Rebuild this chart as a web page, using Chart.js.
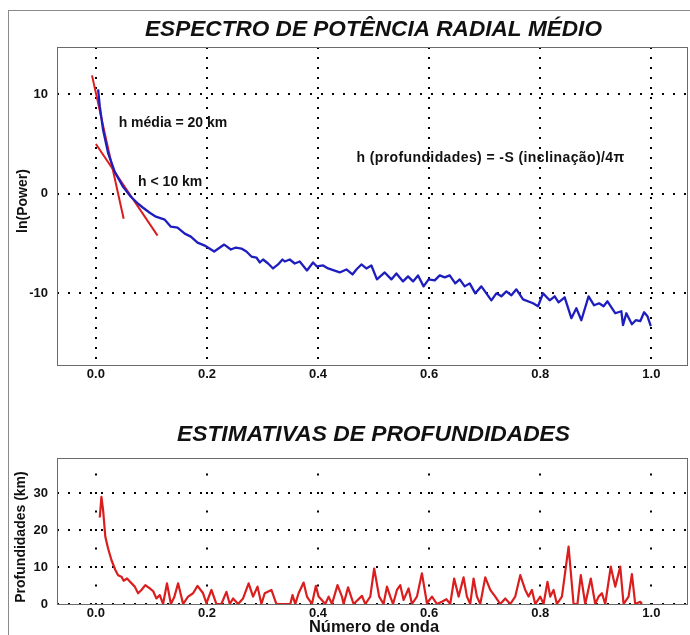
<!DOCTYPE html>
<html><head><meta charset="utf-8">
<script src="https://cdn.jsdelivr.net/npm/chart.js@4.4.0/dist/chart.umd.min.js"></script>
<style>
html,body{margin:0;padding:0;background:#fff;width:690px;height:635px;overflow:hidden;}
#frame{position:absolute;left:8px;top:10px;width:700px;height:700px;border-left:1px solid #8a8a8a;border-top:1px solid #8a8a8a;}
#w1{position:absolute;left:0;top:0;width:690px;height:395px;}
#w2{position:absolute;left:0;top:395px;width:690px;height:240px;}
</style></head><body>
<div id="frame"></div>
<div id="w1"><canvas id="c1"></canvas></div>
<div id="w2"><canvas id="c2"></canvas></div>
<script>
// ---- data ----
const spectrumK = [0.004,0.007,0.013,0.022,0.034,0.049,0.063,0.076,0.085,0.097,0.108,0.124,0.135,0.147,0.160,0.171,0.183,0.196,0.213,0.231,0.243,0.252,0.262,0.271,0.280,0.289,0.295,0.301,0.310,0.319,0.328,0.336,0.340,0.349,0.358,0.367,0.380,0.391,0.398,0.409,0.418,0.439,0.451,0.462,0.469,0.478,0.487,0.496,0.506,0.520,0.532,0.541,0.553,0.562,0.571,0.580,0.590,0.599,0.610,0.619,0.628,0.637,0.647,0.655,0.664,0.673,0.683,0.694,0.703,0.712,0.721,0.730,0.739,0.748,0.757,0.769,0.787,0.796,0.805,0.817,0.826,0.833,0.844,0.856,0.865,0.874,0.887,0.897,0.906,0.914,0.921,0.935,0.946,0.949,0.955,0.965,0.972,0.980,0.987,0.993,0.999];
const spectrumLnP = [10.5,8.8,6.4,4.1,2.2,0.7,-0.3,-1.0,-1.4,-1.9,-2.3,-2.6,-3.3,-3.4,-4.0,-4.3,-4.9,-5.2,-5.8,-5.1,-5.6,-5.4,-5.5,-5.8,-6.3,-6.4,-6.9,-6.6,-7.0,-7.5,-7.1,-6.6,-6.8,-6.6,-7.0,-6.8,-7.7,-6.9,-7.3,-7.2,-7.5,-7.9,-7.6,-8.1,-7.6,-7.1,-7.5,-7.2,-8.6,-7.9,-8.6,-8.0,-8.8,-8.3,-8.8,-8.2,-9.3,-8.6,-8.7,-8.2,-8.4,-8.2,-9.0,-8.6,-9.3,-9.0,-10.0,-9.3,-10.0,-10.7,-10.0,-10.3,-9.8,-10.2,-9.6,-10.6,-11.0,-11.3,-10.0,-10.7,-10.3,-10.9,-10.4,-12.5,-11.5,-12.7,-10.3,-11.2,-11.0,-11.3,-10.8,-12.0,-11.8,-13.2,-12.0,-13.1,-12.7,-12.8,-11.9,-12.3,-13.3];
const fitDeepK = [-0.007, 0.050];
const fitDeepLnP = [11.9, -2.5];
const fitShallowK = [0.0, 0.111];
const fitShallowLnP = [5.0, -4.2];
const depthK = [0.007,0.010,0.013,0.017,0.022,0.028,0.035,0.040,0.046,0.050,0.056,0.070,0.076,0.082,0.089,0.097,0.103,0.109,0.115,0.121,0.128,0.135,0.141,0.148,0.157,0.166,0.175,0.183,0.193,0.199,0.208,0.217,0.226,0.235,0.241,0.247,0.256,0.265,0.275,0.283,0.291,0.298,0.304,0.316,0.325,0.350,0.354,0.359,0.365,0.374,0.380,0.389,0.396,0.401,0.413,0.419,0.425,0.435,0.443,0.446,0.454,0.464,0.479,0.485,0.494,0.501,0.510,0.518,0.524,0.530,0.535,0.542,0.548,0.554,0.563,0.569,0.578,0.587,0.596,0.605,0.614,0.623,0.631,0.638,0.645,0.653,0.662,0.668,0.674,0.680,0.686,0.692,0.701,0.710,0.719,0.728,0.737,0.746,0.755,0.764,0.773,0.779,0.785,0.791,0.800,0.806,0.813,0.818,0.824,0.830,0.839,0.851,0.860,0.867,0.873,0.881,0.891,0.899,0.905,0.911,0.917,0.927,0.935,0.944,0.950,0.959,0.965,0.971,0.980,0.983];
const depthKm = [23.4,29.0,25.4,18.2,15.0,11.9,9.2,7.8,7.4,6.3,6.9,4.7,2.9,3.8,5.1,4.2,3.5,1.5,2.4,0,5.6,0,1.8,5.6,0,2.0,2.9,4.9,2.9,0.2,3.8,0,0,3.3,0,1.5,0,1.5,5.6,2.0,4.7,0,2.9,3.8,0,0,2.4,0,2.9,5.8,2.0,0,4.9,2.0,0,2.0,0,5.1,2.0,0,4.5,0,2.2,0,2.0,9.6,2.0,0,4.7,2.0,0,3.8,5.1,1.1,4.2,0,2.0,8.3,0.2,2.0,0,0.6,1.3,0,6.9,2.0,7.2,2.0,0,6.9,2.0,0,7.2,3.8,2.0,0,1.5,0,2.0,7.8,3.8,2.0,3.8,0,2.0,0,6.0,2.0,3.8,0,2.0,15.5,0,0,7.8,0,6.9,0,2.0,2.9,0,10.1,4.7,10.1,0,2.0,8.1,0,0.6,0];
const xTickValues = [0, 0.2, 0.4, 0.6, 0.8, 1.0];
const powerTickValues = [-10, 0, 10];
const depthTickValues = [0, 10, 20, 30];

const texts = {
  title1: 'ESPECTRO DE POTÊNCIA RADIAL MÉDIO',
  title2: 'ESTIMATIVAS DE PROFUNDIDADES',
  yTitle1: 'ln(Power)',
  yTitle2: 'Profundidades (km)',
  xTitle2: 'Número de onda',
  noteDeep: 'h média = 20 km',
  noteShallow: 'h < 10 km',
  formula: 'h (profundidades) = -S (inclinação)/4\u03C0'
};
// annotation anchors in data coordinates (wavenumber, lnP)
const noteDeepAt = [0.041, 7.1];
const noteShallowAt = [0.076, 1.2];
const formulaAt = [0.469, 3.6];

// ---- helpers ----
const FONT = '"Liberation Sans", Arial, sans-serif';
const BLUE = 'rgb(30,30,190)';
const RED = 'rgb(218,30,30)';
function pts(xs, ys){ return xs.map((x,i)=>({x, y: ys[i]})); }

const boxPlugin = {
  id: 'box',
  beforeDatasetsDraw(chart){
    const {ctx, chartArea:a} = chart;
    ctx.save();
    ctx.strokeStyle = '#6a6a6a';
    ctx.lineWidth = 1;
    ctx.strokeRect(Math.round(a.left)+0.5, Math.round(a.top)+0.5, Math.round(a.right-a.left)-1, Math.round(a.bottom-a.top));
    ctx.restore();
  }
};

function textPlugin(items){
  return {
    id: 'texts',
    afterDraw(chart){
      const ctx = chart.ctx;
      ctx.save();
      ctx.fillStyle = '#111';
      items(chart).forEach(t=>{
        ctx.save();
        ctx.font = t.font;
        if (t.spacing) ctx.letterSpacing = t.spacing;
        ctx.textAlign = t.align || 'center';
        ctx.textBaseline = 'middle';
        ctx.translate(t.x, t.y);
        if (t.rot) ctx.rotate(t.rot);
        ctx.fillText(t.text, 0, 0);
        ctx.restore();
      });
      ctx.restore();
    }
  };
}

function xScale(h){
  return {
    type: 'linear', min: -0.07, max: 1.066,
    afterFit(s){ s.height = h; },
    afterBuildTicks(s){ s.ticks = xTickValues.map(v=>({value:v})); },
    grid: { color: '#000', lineWidth: 2, drawTicks: false },
    border: { display: false, dash: [2, 8] },
    ticks: { color: '#111', padding: 2, font: { family: FONT, size: 13, weight: 'bold' },
      callback: v => v.toFixed(1), maxRotation: 0, autoSkip: false }
  };
}

// ---- top chart ----
new Chart(document.getElementById('c1'), {
  type: 'scatter',
  data: { datasets: [
    { data: pts(spectrumK, spectrumLnP), showLine: true, borderColor: BLUE, borderWidth: 2.3, pointRadius: 0, tension: 0, borderJoinStyle: 'round' },
    { data: pts(fitDeepK, fitDeepLnP), showLine: true, borderColor: RED, borderWidth: 2, pointRadius: 0 },
    { data: pts(fitShallowK, fitShallowLnP), showLine: true, borderColor: RED, borderWidth: 2, pointRadius: 0 }
  ]},
  options: {
    responsive: true, maintainAspectRatio: false, animation: false,
    layout: { padding: { top: 47, right: 2, left: 0, bottom: 0 } },
    plugins: { legend: { display: false }, tooltip: { enabled: false } },
    scales: {
      x: xScale(30),
      y: {
        type: 'linear', min: -17.2, max: 14.75,
        afterFit(s){ s.width = 57; },
        afterBuildTicks(s){ s.ticks = powerTickValues.map(v=>({value:v})); },
        grid: { color: '#000', lineWidth: 2, drawTicks: false },
        border: { display: false, dash: [2, 9] },
        ticks: { color: '#111', padding: 9, font: { family: FONT, size: 13, weight: 'bold' } }
      }
    }
  },
  plugins: [boxPlugin, textPlugin(chart=>{
    const a = chart.chartArea, x = chart.scales.x, y = chart.scales.y;
    const cx = (a.left + a.right)/2;
    return [
      { text: texts.title1, x: cx + 1, y: 30, font: 'italic bold 22.6px ' + FONT },
      { text: texts.yTitle1, x: 23, y: 201, rot: -Math.PI/2, font: 'bold 14px ' + FONT },
      { text: texts.noteDeep, x: x.getPixelForValue(noteDeepAt[0]), y: y.getPixelForValue(noteDeepAt[1]), align: 'left', font: 'bold 14px ' + FONT },
      { text: texts.noteShallow, x: x.getPixelForValue(noteShallowAt[0]), y: y.getPixelForValue(noteShallowAt[1]), align: 'left', font: 'bold 14px ' + FONT },
      { text: texts.formula, x: x.getPixelForValue(formulaAt[0]), y: y.getPixelForValue(formulaAt[1]), align: 'left', font: 'bold 14px ' + FONT, spacing: '0.4px' }
    ];
  })]
});

// ---- bottom chart ----
const xs2 = xScale(31);
xs2.border = { display: false, dash: [2, 16.5], dashOffset: 2.9 };
new Chart(document.getElementById('c2'), {
  type: 'scatter',
  data: { datasets: [
    { data: pts(depthK, depthKm), showLine: true, borderColor: RED, borderWidth: 2.2, pointRadius: 0, tension: 0, borderJoinStyle: 'round' }
  ]},
  options: {
    responsive: true, maintainAspectRatio: false, animation: false,
    layout: { padding: { top: 63, right: 2, left: 0, bottom: 0 } },
    plugins: { legend: { display: false }, tooltip: { enabled: false } },
    scales: {
      x: xs2,
      y: {
        type: 'linear', min: 0, max: 39.5,
        afterFit(s){ s.width = 57; },
        afterBuildTicks(s){ s.ticks = depthTickValues.map(v=>({value:v})); },
        grid: { color: '#000', lineWidth: 2, drawTicks: false },
        border: { display: false, dash: [2, 9] },
        ticks: { color: '#111', padding: 9, font: { family: FONT, size: 13, weight: 'bold' } }
      }
    }
  },
  plugins: [boxPlugin, textPlugin(chart=>{
    const a = chart.chartArea;
    const cx = (a.left + a.right)/2;
    return [
      { text: texts.title2, x: cx + 1, y: 40, font: 'italic bold 22.8px ' + FONT },
      { text: texts.yTitle2, x: 21, y: 142, rot: -Math.PI/2, font: 'bold 14px ' + FONT },
      { text: texts.xTitle2, x: 374, y: 232, font: 'bold 16.5px ' + FONT }
    ];
  })]
});
</script>
</body></html>
